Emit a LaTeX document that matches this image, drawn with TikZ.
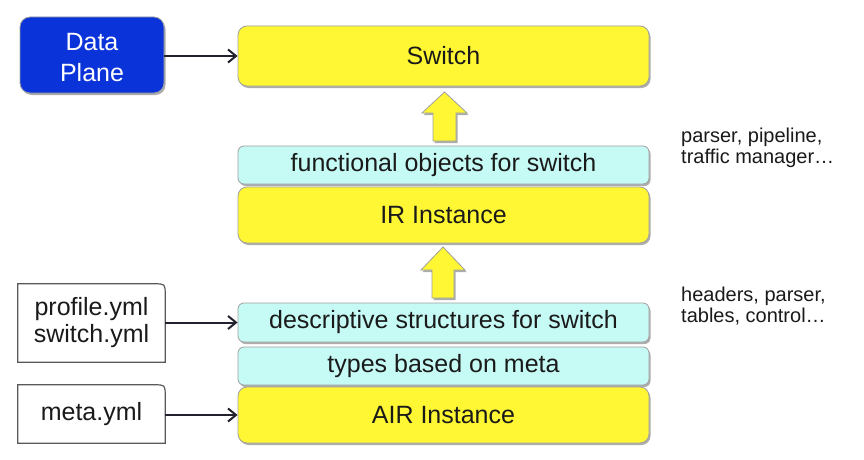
\documentclass[tikz,border=0pt]{standalone}
\usepackage{fontspec}
\setmainfont{Liberation Sans}
\usetikzlibrary{arrows.meta,shadows}
\definecolor{boxyellow}{HTML}{FFF733}
\definecolor{boxcyan}{HTML}{C6FBF5}
\definecolor{dpblue}{HTML}{0B33DA}
\definecolor{bordergray}{HTML}{A0A0A0}
\definecolor{arrowdark}{HTML}{22222E}
\definecolor{textdark}{HTML}{1A1A1A}
\begin{document}
\begin{tikzpicture}[x=1pt,y=-1pt,
  myshadow/.style={drop shadow={shadow xshift=1.5pt,shadow yshift=-2pt,fill=black!40,opacity=0.8}},
  layer/.style={draw=bordergray,line width=0.8pt,minimum width=411pt,inner sep=0pt,
    font=\fontsize{25}{30}\selectfont,text=textdark,myshadow},
  ylayer/.style={layer,fill=boxyellow,rounded corners=9pt,minimum height=#1},
  clayer/.style={layer,fill=boxcyan,rounded corners=6pt,minimum height=#1},
  dpbox/.style={draw=bordergray,line width=0.8pt,fill=dpblue,rounded corners=10pt,
    minimum width=144pt,minimum height=76pt,inner sep=0pt,myshadow},
  dptext/.style={text=white,align=center,inner sep=0pt,font=\fontsize{25}{31}\selectfont},
  filebox/.style={minimum width=147pt,inner sep=0pt,align=center,
    font=\fontsize{25}{27}\selectfont,text=textdark,minimum height=#1},
  fileframe/.style={draw=black!65,line width=1.2pt,fill=white},
  note/.style={anchor=west,inner sep=0pt,align=left,text=textdark,
    font=\fontsize{20}{21.5}\selectfont},
  feed/.style={draw=arrowdark,line width=2pt,-{Straight Barb[length=8pt,width=13pt,line width=2pt]}},
  blockarrow/.style={fill=boxyellow,draw=bordergray,line width=0.8pt,myshadow}
]
\fill[white] (0,0) rectangle (864,460);
\useasboundingbox (0,0) rectangle (864,460);

% layers
\node[ylayer=60pt] (sw) at (443.5,56) {Switch};
\node[clayer=38pt] (func) at (443.5,165) {functional objects for switch};
\node[ylayer=56pt] (ir) at (443.5,215) {IR Instance};
\node[clayer=39pt] (desc) at (443.5,322.5) {descriptive structures for switch};
\node[clayer=38pt] (types) at (443.5,366) {types based on meta};
\node[ylayer=56pt] (air) at (443.5,415) {AIR Instance};

% block arrows
\path[blockarrow] (433,141) -- (433,113) -- (422,113) -- (444.5,92) -- (467,113) -- (456,113) -- (456,141) -- cycle;
\path[blockarrow] (432,298) -- (432,270) -- (421,270) -- (443,247) -- (465,270) -- (454,270) -- (454,298) -- cycle;

% left sources
\node[dpbox] (dp) at (92,55) {};
\node[dptext] (dpt) at (92,57.5) {Data\\Plane};
\node[filebox=78pt] (prof) at (91.5,323) {};
\draw[fileframe] (prof.south west) -- (prof.north west) -- ([xshift=-11pt]prof.north east)
  .. controls (prof.north east) .. ([yshift=-11pt]prof.north east) -- (prof.south east) -- cycle;
\node[filebox=78pt] (proft) at (prof.center) {profile.yml\\switch.yml};
\node[filebox=58pt] (meta) at (91.5,414) {};
\draw[fileframe] (meta.south west) -- (meta.north west) -- ([xshift=-11pt]meta.north east)
  .. controls (meta.north east) .. ([yshift=-11pt]meta.north east) -- (meta.south east) -- cycle;
\node[filebox=58pt] (metat) at (meta.center) {meta.yml};

% connectors
\draw[feed] (dp.east |- sw.west) -- (sw.west);
\draw[feed] (prof.east |- desc.west) -- (desc.west);
\draw[feed] (meta.east |- air.west) -- (air.west);

% notes
\node[note] (n1) at (681,148) {parser, pipeline,\\traffic manager…};
\node[note] (n2) at (681,306) {headers, parser,\\tables, control…};
\end{tikzpicture}
\end{document}
